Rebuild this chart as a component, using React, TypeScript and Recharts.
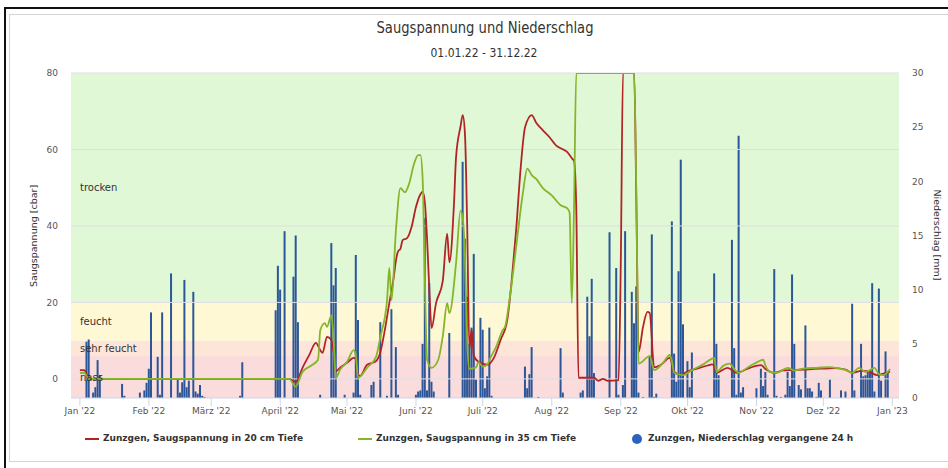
import React from 'react';
import {
  ComposedChart,
  XAxis,
  YAxis,
  Bar,
  Line,
  ReferenceArea,
  ReferenceLine,
} from 'recharts';

// day of year 2022 (0 = 01.01.)
const MONTH_TICKS = [0, 31, 59, 90, 120, 151, 181, 212, 243, 273, 304, 334, 365];
const MONTH_LABELS = [
  "Jan '22", "Feb '22", "März '22", "April '22", "Mai '22", "Juni '22", "Juli '22",
  "Aug '22", "Sep '22", "Okt '22", "Nov '22", "Dez '22", "Jan '23",
];

const TENSION_TICKS = [0, 20, 40, 60, 80];
const RAIN_TICKS = [0, 5, 10, 15, 20, 25, 30];

// [day, cbar]
const TENSION_20CM: [number, number][] = [
  [0, 2.3], [2, 2.3], [3, 1.2], [4, 0], [94, 0], [97, -0.8], [100, 2.9], [103, 6.2],
  [106, 9.4], [108, 7.5], [109, 6.8], [111, 11], [113, 10.2], [114, 7], [115, 2.0],
  [117, 3], [120, 4.2], [123, 5.5], [124, 5.2], [125, 1], [126, 0.8], [129, 3.7],
  [133, 4.6], [135, 7], [137, 12.8], [139, 19.8], [141, 26.6], [142, 31], [143, 33.4],
  [144, 34], [145, 36.3], [147, 36.8], [149, 39.7], [151, 45], [153, 48.3], [154, 49],
  [155, 46], [156, 36.3], [157, 23.2], [158, 13.3], [160, 19.8], [163, 25.5], [165, 38],
  [166, 30.5], [168, 45], [169, 58], [171, 66], [172, 69], [173, 64], [174, 40], [175, 8],
  [176, 13], [177, 6], [179, 4.5], [180, 4.2], [183, 3.7], [186, 5.5], [189, 10.2],
  [192, 15.4], [194, 25.8], [196, 39], [198, 55], [200, 65.8], [203, 69], [205, 67],
  [208, 65], [211, 63.2], [214, 61], [216, 60.3], [219, 59.3], [221, 57.7], [222, 57],
  [223, 45], [224, 0.3], [231, 0.3], [233, -0.5], [235, 0], [237, -0.5], [242, -0.3],
  [243, 30], [244, 80], [249, 80], [250, 46], [251, 7], [253, 13.6], [255, 17.5],
  [256, 17.2], [258, 3], [261, 3.7], [265, 5.5], [267, 1.8], [270, 1], [273, 2],
  [276, 2.5], [282, 3.5], [284, 3.8], [285, 3.4], [286, 1.6], [291, 2.9], [295, 1.6],
  [301, 2.9], [306, 3.6], [308, 2.6], [312, 1.6], [316, 2.2], [320, 2.3], [325, 2.4],
  [330, 2.6], [335, 2.7], [339, 2.8], [344, 2.4], [347, 1.6], [351, 2.1], [354, 2.0],
  [358, 1], [361, 1.4], [364, 1.9],
];

const TENSION_35CM: [number, number][] = [
  [0, 1.5], [2, 1.6], [3, 0.8], [4, 0], [94, 0], [97, -2], [100, 1.8], [104, 3.5],
  [107, 5], [108, 12.8], [110, 14.6], [111, 13.6], [113, 16.7], [114, 10], [115, 0.3],
  [117, 2.5], [120, 4.4], [123, 7.5], [124, 6], [125, 0.3], [129, 2.9], [133, 5.7],
  [135, 11], [138, 20.6], [139, 29], [140, 20.6], [142, 39], [144, 49.9], [146, 48.8],
  [148, 51.2], [150, 56], [152, 58.5], [153, 58.5], [154, 52], [155, 25], [156, 5],
  [158, 2.9], [161, 5], [163, 11], [165, 19.8], [166, 17.2], [169, 30.3], [171, 44],
  [172, 42], [173, 31.8], [174, 10], [175, 2.6], [178, 3], [179, 4.4], [181, 3.2],
  [183, 3.7], [184, 5], [187, 8.4], [190, 12.8], [191, 13.6], [193, 20.6], [196, 34.5],
  [199, 48.5], [201, 55], [203, 53.3], [205, 52.3], [208, 49.9], [212, 48], [216, 45.4],
  [219, 44.6], [220, 43.5], [221, 19.8], [222, 45], [223, 80], [249, 80], [250, 48.5],
  [251, 4], [255, 5.7], [256, 6], [258, 2.3], [262, 4.2], [265, 6.3], [266, 4.5],
  [267, 1.6], [271, 1], [275, 2.3], [280, 3.8], [284, 5.3], [285, 5.5], [286, 1.8],
  [289, 3.4], [292, 4], [294, 2.5], [296, 1.6], [300, 3], [305, 4.6], [307, 5], [308, 3.5],
  [310, 1.8], [313, 1.6], [318, 2.9], [321, 2.2], [325, 2.7], [331, 2.9], [337, 3.1],
  [342, 2.6], [345, 2.1], [347, 1.6], [350, 2.9], [353, 1.8], [355, 2.3], [357, 2.9],
  [359, 1.2], [361, 1.0], [364, 2.6],
];

// [day, mm]
const RAIN_24H: [number, number][] = [
  [3, 5.2], [4, 5.4], [6, 0.5], [7, 1.0], [8, 3.5], [9, 2.1], [19, 1.3], [20, 0.2],
  [27, 0.5], [29, 0.7], [30, 1.4], [31, 2.7], [32, 7.9], [35, 3.8], [36, 0.3], [37, 7.9],
  [41, 11.5], [44, 1.7], [45, 0.5], [46, 1.45], [47, 10.9], [48, 1.0], [49, 1.6],
  [51, 9.8], [52, 0.6], [53, 0.4], [54, 1.2], [55, 0.2], [56, 0.1], [72, 0.2], [73, 3.3],
  [88, 8.1], [89, 12.2], [90, 10], [92, 15.4], [96, 11.2], [97, 15], [98, 7], [108, 0.3],
  [113, 14.3], [114, 10.4], [115, 12], [119, 0.3], [123, 0.5], [124, 13.2], [125, 7.2],
  [126, 0.3], [131, 1.2], [132, 1.5], [135, 7], [138, 0.2], [140, 8.2], [142, 4.7],
  [143, 0.3], [151, 0.3], [152, 0.6], [153, 0.7], [154, 5], [155, 16.6], [156, 0.7],
  [157, 10.6], [158, 1.5], [159, 0.6], [166, 6], [172, 21.8], [173, 14.7], [174, 9.35],
  [175, 5], [176, 6.5], [177, 13.3], [178, 1.7], [180, 7.4], [181, 6.3], [182, 0.9],
  [183, 2], [184, 6.5], [185, 0.2], [200, 2.9], [201, 0.9], [202, 2.2], [203, 4.7],
  [206, 0.1], [216, 4.6], [217, 0.5], [225, 0.5], [226, 0.7], [228, 9.35], [229, 5.7],
  [230, 11], [231, 2.3], [238, 15.3], [241, 12], [242, 0.3], [244, 1.2], [245, 15.4],
  [248, 9.8], [249, 6.9], [250, 10.3], [251, 0.5], [253, 0.1], [256, 3.8], [257, 15.1],
  [258, 0.1], [259, 0.4], [266, 16.3], [267, 4.1], [268, 1.5], [269, 11.7], [270, 22],
  [271, 6.8], [273, 3.4], [274, 1], [275, 4.2], [285, 11.5], [286, 5], [287, 2.1],
  [293, 14.6], [294, 4.6], [295, 0.3], [296, 24.2], [297, 0.5], [298, 1], [304, 0.9],
  [306, 2.7], [307, 1.1], [308, 2.4], [309, 0.3], [312, 11.9], [313, 0.2], [315, 0.1],
  [317, 0.3], [318, 2.4], [319, 1.1], [320, 11.4], [321, 5], [323, 1.2], [324, 0.8],
  [326, 6.7], [327, 0.9], [328, 0.9], [329, 0.6], [331, 0.1], [332, 1.4], [333, 0.7],
  [337, 1.7], [342, 0.7], [344, 0.6], [347, 8.7], [348, 0.7], [351, 5], [352, 2],
  [353, 2.1], [354, 2.5], [355, 2.6], [356, 10.6], [357, 0.6], [359, 10.1], [360, 1.6],
  [362, 4.3], [363, 2.4],
];

// Bewertungsbereiche [cbar]
const BAND_NAMES = ['trocken', 'feucht', 'sehr feucht', 'nass'];
const BAND_LIMITS: [number, number][] = [[20, 80], [10, 20], [6, 10], [-5, 6]];
const BAND_COLORS = ['#e0f8d5', '#fef9d4', '#fde6d7', '#fbdcdc'];

const RED = '#b22326';
const GREEN = '#86b52b';
const BLUE = '#2b5799';
const FONT = '"DejaVu Sans", Verdana, sans-serif';

const rows = new Map<number, any>();
const rowFor = (d: number) => {
  if (!rows.has(d)) rows.set(d, { day: d });
  return rows.get(d);
};
TENSION_20CM.forEach(([d, v]) => (rowFor(d).t20 = v));
TENSION_35CM.forEach(([d, v]) => (rowFor(d).t35 = v));
RAIN_24H.forEach(([d, v]) => (rowFor(d).rain = v));
const chartData = [...rows.values()].sort((a, b) => a.day - b.day);

const monthLabel = (v: number) => MONTH_LABELS[MONTH_TICKS.indexOf(v)] ?? '';

export default function App() {
  return (
    <div style={{ position: 'absolute', left: 0, top: 0, width: 948, height: 468, background: '#fff', fontFamily: FONT, overflow: 'hidden' }}>
      {/* frame */}
      <div style={{ position: 'absolute', left: 4, top: 7, width: 944, height: 2, background: '#111' }} />
      <div style={{ position: 'absolute', left: 4, top: 7, width: 2, height: 461, background: '#111' }} />
      <div style={{ position: 'absolute', left: 9, top: 14, width: 950, height: 446, border: '1px solid #d4d4d4' }} />

      <svg style={{ position: 'absolute', left: 0, top: 0 }} width={948} height={70}>
        <text x={485} y={33} textAnchor="middle" fontSize={16} fill="#333" fontFamily={FONT}
          textLength={217} lengthAdjust="spacingAndGlyphs">Saugspannung und Niederschlag</text>
        <text x={484} y={57} textAnchor="middle" fontSize={12} fill="#333" fontFamily={FONT}
          textLength={107} lengthAdjust="spacingAndGlyphs">01.01.22 - 31.12.22</text>
      </svg>

      <div style={{ position: 'absolute', left: 0, top: 0 }}>
        <ComposedChart
          width={948}
          height={468}
          data={chartData}
          margin={{ top: 73, right: 0, bottom: 45, left: 0 }}
        >
          <XAxis
            dataKey="day"
            type="number"
            domain={[-4, 368]}
            ticks={MONTH_TICKS}
            tickFormatter={monthLabel}
            interval={0}
            height={25}
            stroke="#ccd6eb"
            tickSize={8}
            tickMargin={2}
            tick={{ fontSize: 9, fill: '#555', fontFamily: FONT }}
          />
          <YAxis
            yAxisId="left"
            domain={[-5, 80]}
            ticks={TENSION_TICKS}
            width={71}
            axisLine={false}
            tickLine={false}
            tickSize={0}
            tickMargin={13}
            allowDataOverflow
            tick={{ fontSize: 9, fill: '#555', fontFamily: FONT }}
          />
          <YAxis
            yAxisId="right"
            orientation="right"
            domain={[0, 30]}
            ticks={RAIN_TICKS}
            width={49}
            axisLine={false}
            tickLine={false}
            tickSize={0}
            tickMargin={13}
            tick={{ fontSize: 9, fill: '#555', fontFamily: FONT }}
          />
          {BAND_NAMES.map((name, i) => (
            <ReferenceArea
              key={name}
              yAxisId="left"
              y1={BAND_LIMITS[i][0]}
              y2={BAND_LIMITS[i][1]}
              fill={BAND_COLORS[i]}
              fillOpacity={1}
              stroke="none"
              ifOverflow="hidden"
              label={{ value: name, position: 'insideLeft', offset: 9, fill: '#333', fontSize: 10, fontFamily: FONT }}
            />
          ))}
          {TENSION_TICKS.map((t) => (
            <ReferenceLine key={t} yAxisId="left" y={t} stroke="#dedee6" strokeWidth={1} />
          ))}
          <Bar
            yAxisId="right"
            dataKey="rain"
            fill={BLUE}
            barSize={2}
            isAnimationActive={false}
          />
          <Line
            yAxisId="left"
            type="monotone"
            dataKey="t20"
            stroke={RED}
            strokeWidth={1.8}
            dot={false}
            connectNulls
            isAnimationActive={false}
          />
          <Line
            yAxisId="left"
            type="monotone"
            dataKey="t35"
            stroke={GREEN}
            strokeWidth={1.8}
            dot={false}
            connectNulls
            isAnimationActive={false}
          />
        </ComposedChart>
      </div>

      {/* axis titles */}
      <div style={{ position: 'absolute', left: 33, top: 236, transform: 'translate(-50%, -50%) rotate(-90deg)', fontSize: 9.5, color: '#333', whiteSpace: 'nowrap' }}>
        Saugspannung [cbar]
      </div>
      <div style={{ position: 'absolute', left: 937, top: 235, transform: 'translate(-50%, -50%) rotate(90deg)', fontSize: 9.5, color: '#333', whiteSpace: 'nowrap' }}>
        Niederschlag [mm]
      </div>

      {/* legend */}
      <div style={{ position: 'absolute', top: 432, left: 0, height: 14, fontSize: 9, fontWeight: 'bold', color: '#333', whiteSpace: 'nowrap' }}>
        <div style={{ position: 'absolute', left: 85, top: 6, width: 14, height: 2, background: RED }} />
        <div style={{ position: 'absolute', left: 103, top: 1 }}>Zunzgen, Saugspannung in 20 cm Tiefe</div>
        <div style={{ position: 'absolute', left: 358, top: 6, width: 14, height: 2, background: GREEN }} />
        <div style={{ position: 'absolute', left: 376, top: 1 }}>Zunzgen, Saugspannung in 35 cm Tiefe</div>
        <div style={{ position: 'absolute', left: 632, top: 2, width: 10, height: 10, borderRadius: 5, background: '#2b63bd' }} />
        <div style={{ position: 'absolute', left: 648, top: 1 }}>Zunzgen, Niederschlag vergangene 24 h</div>
      </div>
    </div>
  );
}
